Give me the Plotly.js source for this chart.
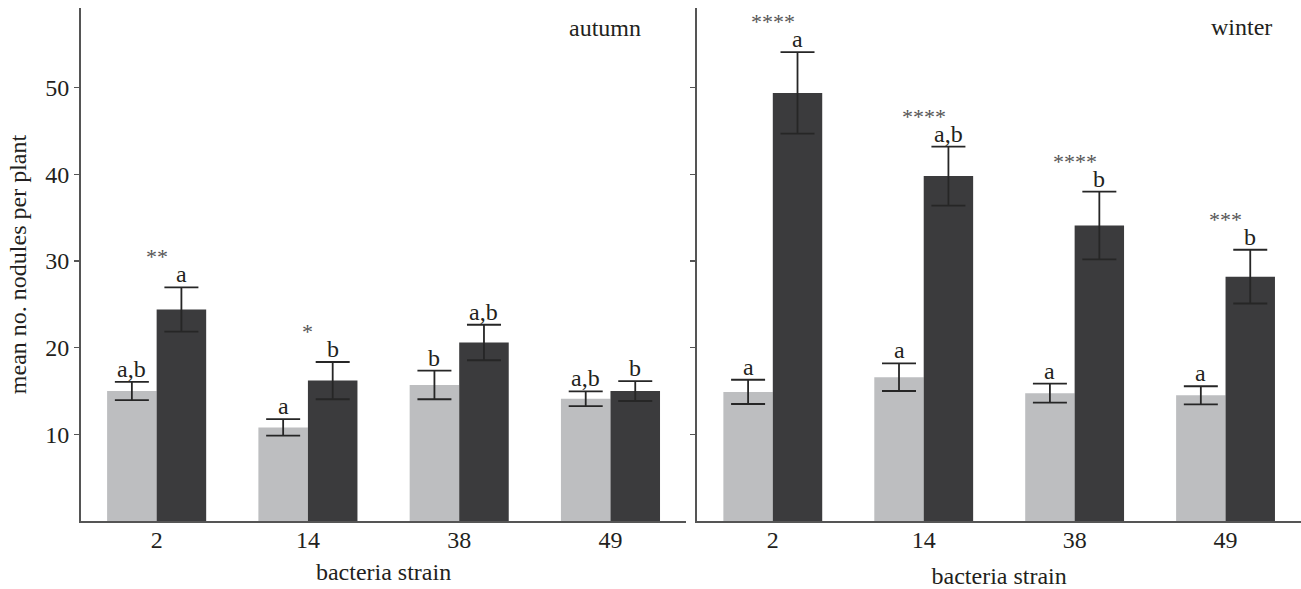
<!DOCTYPE html>
<html>
<head>
<meta charset="utf-8">
<script src="https://cdn.plot.ly/plotly-3.0.1.min.js"></script>
<style>html,body{margin:0;padding:0;background:#fff;}#chart{width:1301px;height:589px;}</style>
</head>
<body>
<div id="chart"></div>
<script>
// ---- data ----
var strains = ['2', '14', '38', '49'];

var autumnLight = [15.0, 10.8, 15.7, 14.1];
var autumnLightErr = [1.05, 0.95, 1.65, 0.85];
var autumnDark = [24.4, 16.2, 20.6, 15.0];
var autumnDarkErr = [2.55, 2.15, 2.05, 1.15];

var winterLight = [14.9, 16.6, 14.75, 14.5];
var winterLightErr = [1.4, 1.6, 1.1, 1.05];
var winterDark = [49.4, 39.8, 34.1, 28.2];
var winterDarkErr = [4.7, 3.4, 3.9, 3.1];

var autumnLightLetters = ['a,b', 'a', 'b', 'a,b'];
var autumnDarkLetters = ['a', 'b', 'a,b', 'b'];
var autumnStars = ['**', '*', '', ''];
var winterLightLetters = ['a', 'a', 'a', 'a'];
var winterDarkLetters = ['a', 'a,b', 'b', 'b'];
var winterStars = ['****', '****', '****', '***'];

// ---- style ----
var LIGHT = '#bdbec0';
var DARK = '#3b3b3d';
var ERRC = '#262626';
var AXC = '#555555';
var TXT = '#231f20';
var FONT = 'Liberation Serif, Times New Roman, serif';
var FS = 24;
var BARGAP = 0.345;

function errObj(arr) {
  return {type: 'data', array: arr, visible: true, color: ERRC, thickness: 1.8, width: 17};
}

function bar(y, err, color, xa, ya) {
  return {
    type: 'bar', x: strains, y: y, xaxis: xa, yaxis: ya,
    marker: {color: color, line: {width: 0}},
    error_y: errObj(err), showlegend: false, hoverinfo: 'skip'
  };
}

var data = [
  bar(autumnLight, autumnLightErr, LIGHT, 'x', 'y'),
  bar(autumnDark, autumnDarkErr, DARK, 'x', 'y'),
  bar(winterLight, winterLightErr, LIGHT, 'x2', 'y2'),
  bar(winterDark, winterDarkErr, DARK, 'x2', 'y2')
];

var ann = [];
var off = (1 - BARGAP) / 4;
function addLabels(xref, yref, vals, errs, letters, dx) {
  for (var i = 0; i < vals.length; i++) {
    if (!letters[i]) continue;
    ann.push({
      xref: xref, yref: yref, x: i + dx, y: vals[i] + errs[i],
      text: letters[i], showarrow: false, xanchor: 'center', yanchor: 'bottom',
      yshift: -2, font: {family: FONT, size: FS, color: TXT}
    });
  }
}
function addStars(xref, yref, vals, errs, stars) {
  for (var i = 0; i < vals.length; i++) {
    if (!stars[i]) continue;
    ann.push({
      xref: xref, yref: yref, x: i, y: vals[i] + errs[i],
      text: stars[i], showarrow: false, xanchor: 'center', yanchor: 'bottom',
      yshift: 16, font: {family: FONT, size: 22, color: '#555555'}
    });
  }
}
addLabels('x', 'y', autumnLight, autumnLightErr, autumnLightLetters, -off);
addLabels('x', 'y', autumnDark, autumnDarkErr, autumnDarkLetters, off);
addStars('x', 'y', autumnDark, autumnDarkErr, autumnStars);
addLabels('x2', 'y2', winterLight, winterLightErr, winterLightLetters, -off);
addLabels('x2', 'y2', winterDark, winterDarkErr, winterDarkLetters, off);
addStars('x2', 'y2', winterDark, winterDarkErr, winterStars);

ann.push({xref: 'paper', yref: 'paper', x: 0.4295, y: 0.961, text: 'autumn', showarrow: false,
  xanchor: 'center', yanchor: 'middle', font: {family: FONT, size: FS, color: TXT}});
ann.push({xref: 'paper', yref: 'paper', x: 0.9514, y: 0.9635, text: 'winter', showarrow: false,
  xanchor: 'center', yanchor: 'middle', font: {family: FONT, size: FS, color: TXT}});

var xCommon = {
  type: 'category', range: [-0.5, 3.5], showline: true, linecolor: AXC, linewidth: 2,
  ticks: '', showgrid: false, zeroline: false, ticklabelstandoff: -4,
  tickfont: {family: FONT, size: FS, color: TXT}
};
var yCommon = {
  range: [0, 59.2], showline: true, linecolor: AXC, linewidth: 2,
  ticks: 'outside', ticklen: 5, tickwidth: 1.5, tickcolor: AXC,
  tickvals: [10, 20, 30, 40, 50], showgrid: false, zeroline: false,
  tickfont: {family: FONT, size: FS, color: TXT}
};

var layout = {
  width: 1301, height: 589,
  margin: {l: 81, r: 0, t: 8, b: 68},
  paper_bgcolor: '#ffffff', plot_bgcolor: '#ffffff',
  barmode: 'group', bargap: BARGAP, bargroupgap: 0,
  font: {family: FONT, color: TXT},
  xaxis: Object.assign({}, xCommon, {domain: [0, 0.496], anchor: 'y',
    title: {text: 'bacteria strain', font: {family: FONT, size: FS, color: TXT}, standoff: 11}}),
  xaxis2: Object.assign({}, xCommon, {domain: [0.5052, 1], anchor: 'y2',
    title: {text: 'bacteria strain', font: {family: FONT, size: FS, color: TXT}, standoff: 15}}),
  yaxis: Object.assign({}, yCommon, {anchor: 'x',
    title: {text: 'mean no. nodules per plant', font: {family: FONT, size: FS, color: TXT}, standoff: 12}}),
  yaxis2: Object.assign({}, yCommon, {anchor: 'x2', showticklabels: false}),
  annotations: ann
};

Plotly.newPlot('chart', data, layout, {displayModeBar: false, staticPlot: true});
</script>
</body>
</html>
